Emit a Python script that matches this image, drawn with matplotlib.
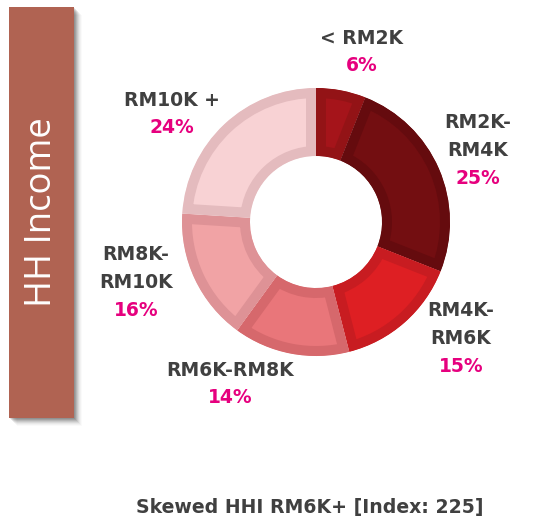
import matplotlib
matplotlib.use("Agg")
import matplotlib.pyplot as plt
from matplotlib.patches import Rectangle

W, H = 549, 524

categories = ["< RM2K", "RM2K-\nRM4K", "RM4K-\nRM6K", "RM6K-RM8K", "RM8K-\nRM10K", "RM10K +"]
shares = [6, 25, 15, 14, 16, 24]
fill_colors = ["#A5141A", "#730E11", "#DE1F23", "#E9767A", "#F1A3A5", "#F8D2D4"]
edge_colors = ["#931316", "#650B0E", "#C81C21", "#D6686C", "#DE9296", "#E4BBBE"]
title_text = "HH Income"
footer_text = "Skewed HHI RM6K+ [Index: 225]"

# label anchor positions (image pixel coords)
label_pos = [(362, 38), (478, 123), (461, 311), (230, 370), (136, 255), (172, 100)]

fig = plt.figure(figsize=(W / 100, H / 100), dpi=100)
ax = fig.add_axes([0, 0, 1, 1])

def Y(y):
    return H - y

# donut
cx, cy, R, ring = 316, Y(222), 134, 68
wedges, _ = ax.pie(shares, colors=fill_colors, startangle=90, counterclock=False,
                   radius=R, center=(cx, cy), frame=True,
                   wedgeprops=dict(width=ring, linewidth=0))
ax.set_xlim(0, W)
ax.set_ylim(0, H)
ax.set_aspect("equal")
ax.axis("off")
bw_px = 10
for w, ec in zip(wedges, edge_colors):
    w.set_edgecolor(ec)
    w.set_linewidth(2 * bw_px * 0.72)
    w.set_joinstyle("miter")
    w.set_clip_on(True)
    w.set_clip_path(w)

# left bar with shadow
for i, a in enumerate([0.10, 0.10, 0.09, 0.08, 0.06, 0.04, 0.03, 0.02]):
    off = i + 1
    ax.add_patch(Rectangle((9 + off, Y(418) - off), 65, 411, facecolor="#000000",
                           alpha=a, edgecolor="none", zorder=1))
ax.add_patch(Rectangle((9, Y(418)), 65, 411, facecolor="#B06352", edgecolor="none", zorder=2))
ax.text(42, Y(212), title_text, rotation=90, color="white", fontsize=26.3,
        family="Open Sans", ha="center", va="center", zorder=3)

# labels
for (lx, ly), cat, s in zip(label_pos, categories, shares):
    lines = cat.split("\n")
    for k, line in enumerate(lines):
        ax.text(lx, Y(ly + 27.5 * k), line, ha="center", va="center", fontsize=13.5,
                fontweight="bold", color="#404040", family="DejaVu Sans")
    ax.text(lx, Y(ly + 27.5 * len(lines)), f"{s}%", ha="center", va="center",
            fontsize=13.5, fontweight="bold", color="#E6007E", family="DejaVu Sans")

ax.text(310, Y(508), footer_text, ha="center", va="center", fontsize=13.6,
        fontweight="bold", color="#404040", family="DejaVu Sans")

fig.savefig("out.png", dpi=100)
